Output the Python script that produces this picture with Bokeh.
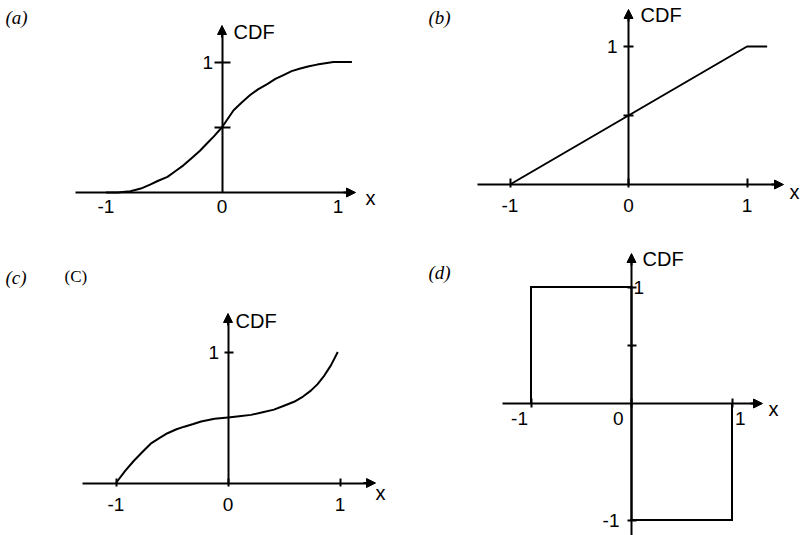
from bokeh.plotting import figure
from bokeh.models import LinearAxis, FixedTicker, Arrow, NormalHead, Label, Range1d
from bokeh.layouts import gridplot
from bokeh.embed import file_html
from bokeh.resources import INLINE

# ---------------- data ----------------
x_ticks = [-1, 0, 1]
x_tick_labels = ["-1", "0", "1"]
y_ticks_top = [0.5, 1]
y_tick_labels_top = ["", "1"]
y_ticks_d = [-1, 0.5, 1]
y_tick_labels_d = ["-1", "", "1"]

# (a) smooth S-shaped CDF
a_x = [-1.0, -0.9, -0.79, -0.70, -0.62, -0.55, -0.47, -0.40, -0.33, -0.26, -0.19, -0.13,
       -0.07, 0.0, 0.05, 0.10, 0.17, 0.24, 0.31, 0.39, 0.46, 0.53, 0.60, 0.675, 0.75,
       0.82, 0.89, 0.96, 1.04, 1.12]
a_cdf = [0.0, 0.0, 0.01, 0.03, 0.06, 0.09, 0.12, 0.165, 0.21, 0.265, 0.32, 0.375,
         0.43, 0.50, 0.565, 0.63, 0.69, 0.745, 0.79, 0.83, 0.87, 0.90, 0.93, 0.95, 0.967,
         0.98, 0.99, 1.0, 1.0, 1.0]
# (b) uniform CDF
b_x = [-1.0, 1.0, 1.17]
b_cdf = [0.0, 1.0, 1.0]
# (c) inverted-S curve
c_x = [-1.0, -0.92, -0.84, -0.76, -0.69, -0.61, -0.54, -0.46, -0.39, -0.31, -0.24, -0.12,
       0.0, 0.10, 0.205, 0.31, 0.41, 0.50, 0.59, 0.67, 0.74, 0.80, 0.86, 0.92, 0.98]
c_cdf = [0.0, 0.09, 0.17, 0.24, 0.30, 0.345, 0.38, 0.41, 0.43, 0.45, 0.47, 0.49,
         0.50, 0.51, 0.52, 0.54, 0.56, 0.59, 0.62, 0.66, 0.705, 0.755, 0.82, 0.90, 1.0]
# (d) square wave
d_x = [-1, -1, 0, 0, 1, 1]
d_cdf = [0, 1, 1, -1, -1, 0]

panel_tags = ["(a)", "(b)", "(c)", "(d)"]
extra_tag = "(C)"
y_name = "CDF"
x_name = "x"

SANS = "Liberation Sans"
SERIF = "Liberation Serif"
TICK_SIZE = "19px"
NAME_SIZE = "20px"
TAG_SIZE = "19px"

# ---------------- layout (page pixel geometry) ----------------
GEOM = {
    "a": dict(left=0, top=0, w=400, h=248, ox=221.5, ux=116.0, oy=192.0, uy=130.5),
    "b": dict(left=400, top=0, w=401, h=248, ox=628.0, ux=118.5, oy=184.0, uy=138.0),
    "c": dict(left=0, top=248, w=400, h=287, ox=227.5, ux=112.0, oy=482.5, uy=131.0),
    "d": dict(left=400, top=248, w=401, h=287, ox=631.0, ux=100.5, oy=403.0, uy=116.5),
}


def make_panel(g):
    xr = Range1d((g["left"] - g["ox"]) / g["ux"], (g["left"] + g["w"] - g["ox"]) / g["ux"])
    yr = Range1d((g["oy"] - (g["top"] + g["h"])) / g["uy"], (g["oy"] - g["top"]) / g["uy"])
    p = figure(width=g["w"], height=g["h"], x_range=xr, y_range=yr,
               output_backend="svg", toolbar_location=None,
               x_axis_location=None, y_axis_location=None,
               min_border=0, outline_line_color=None, title=None)
    p.grid.visible = False
    p.background_fill_color = "white"
    p.border_fill_color = "white"

    def px2x(px):
        return (px - g["ox"]) / g["ux"]

    def py2y(py):
        return (g["oy"] - py) / g["uy"]
    return p, px2x, py2y


def style_axis(ax, tin, tout, standoff):
    ax.axis_line_width = 2
    ax.axis_line_color = "black"
    ax.major_tick_line_width = 2
    ax.major_tick_line_color = "black"
    ax.major_tick_in = tin
    ax.major_tick_out = tout
    ax.minor_tick_line_color = None
    ax.major_label_text_font = SANS
    ax.major_label_text_font_size = TICK_SIZE
    ax.major_label_text_color = "black"
    ax.major_label_standoff = standoff


def add_x_axis(p, px2x, x0_px, tip_px, tin, tout, standoff, show_labels=True):
    x0, tip = px2x(x0_px), px2x(tip_px)
    shaft_end = px2x(tip_px - 9)
    overrides = {t: (lab if show_labels else "") for t, lab in zip(x_ticks, x_tick_labels)}
    ax = LinearAxis(fixed_location=0, bounds=(x0, shaft_end),
                    ticker=FixedTicker(ticks=x_ticks), major_label_overrides=overrides)
    style_axis(ax, tin, tout, standoff)
    p.add_layout(ax, "below")
    p.add_layout(Arrow(end=NormalHead(size=9, fill_color="black", line_color="black", line_width=1),
                       x_start=px2x(tip_px - 12), y_start=0, x_end=tip, y_end=0,
                       line_width=2, line_color="black"))


def add_y_axis(p, py2y, y0, tip_py, ticks, labels, tin, tout, standoff, side="left"):
    tip = py2y(tip_py)
    shaft_end = py2y(tip_py + 9)
    ax = LinearAxis(fixed_location=0, bounds=(y0, shaft_end),
                    ticker=FixedTicker(ticks=ticks),
                    major_label_overrides={t: lab for t, lab in zip(ticks, labels)})
    style_axis(ax, tin, tout, standoff)
    p.add_layout(ax, side)
    p.add_layout(Arrow(end=NormalHead(size=9, fill_color="black", line_color="black", line_width=1),
                       x_start=0, y_start=py2y(tip_py + 12), x_end=0, y_end=tip,
                       line_width=2, line_color="black"))


def add_text(p, px2x, py2y, px, py, text, font, size, style="normal", align="left"):
    p.add_layout(Label(x=px2x(px), y=py2y(py), text=text, text_font=font,
                       text_font_size=size, text_font_style=style, text_align=align,
                       text_baseline="middle", text_color="black"))


# ---------------- panel (a) ----------------
pa, ax_, ay_ = make_panel(GEOM["a"])
pa.line(a_x, a_cdf, line_width=2, line_color="black", line_join="round")
add_x_axis(pa, ax_, 75, 355, 0, 0, 7)
add_y_axis(pa, ay_, 0, 25, y_ticks_top, y_tick_labels_top, 8, 8, 1)
add_text(pa, ax_, ay_, 233, 31.5, y_name, SANS, NAME_SIZE)
add_text(pa, ax_, ay_, 365, 197, x_name, SANS, NAME_SIZE)
add_text(pa, ax_, ay_, 5, 17, panel_tags[0], SERIF, TAG_SIZE, "italic")

# ---------------- panel (b) ----------------
pb, bx_, by_ = make_panel(GEOM["b"])
pb.line(b_x, b_cdf, line_width=2, line_color="black", line_join="round")
add_x_axis(pb, bx_, 477, 783, 6, 3, 11)
add_y_axis(pb, by_, 0, 9, y_ticks_top, y_tick_labels_top, 5, 5, 6)
add_text(pb, bx_, by_, 640, 14, y_name, SANS, NAME_SIZE)
add_text(pb, bx_, by_, 789, 191, x_name, SANS, NAME_SIZE)
add_text(pb, bx_, by_, 428, 17, panel_tags[1], SERIF, TAG_SIZE, "italic")

# ---------------- panel (c) ----------------
pc, cx_, cy_ = make_panel(GEOM["c"])
pc.line(c_x, c_cdf, line_width=2, line_color="black", line_join="round")
add_x_axis(pc, cx_, 82, 375, 5, 3, 12)
add_y_axis(pc, cy_, 0, 313, [1], ["1"], 5, 4, 5)
add_text(pc, cx_, cy_, 235, 320, y_name, SANS, NAME_SIZE)
add_text(pc, cx_, cy_, 375, 492, x_name, SANS, NAME_SIZE)
add_text(pc, cx_, cy_, 5, 277, panel_tags[2], SERIF, TAG_SIZE, "italic")
add_text(pc, cx_, cy_, 64, 276, extra_tag, SERIF, "17px")

# ---------------- panel (d) ----------------
pd, dx_, dy_ = make_panel(GEOM["d"])
pd.line(d_x, d_cdf, line_width=2, line_color="black", line_join="miter")
add_x_axis(pd, dx_, 502, 762, 5, 4, 4, show_labels=False)
add_y_axis(pd, dy_, pd.y_range.start, 253, y_ticks_d, ["-1", "", ""], 5, 4, 8)
ry = LinearAxis(fixed_location=0, ticker=FixedTicker(ticks=[1]),
                major_label_overrides={1: y_tick_labels_d[2]})
style_axis(ry, 0, 0, 2)
ry.axis_line_color = None
pd.add_layout(ry, "right")
# x tick labels placed beside the square wave's verticals
d_label_align = ["right", "right", "left"]
d_label_dx = [-3, -8, 3]
for t, lab, al, dx in zip(x_ticks, x_tick_labels, d_label_align, d_label_dx):
    pd.add_layout(Label(x=t, y=0, text=lab, x_offset=dx, y_offset=-15,
                        text_font=SANS, text_font_size=TICK_SIZE, text_align=al,
                        text_baseline="middle", text_color="black"))
add_text(pd, dx_, dy_, 642, 258, y_name, SANS, NAME_SIZE)
add_text(pd, dx_, dy_, 768, 408, x_name, SANS, NAME_SIZE)
add_text(pd, dx_, dy_, 428, 272, panel_tags[3], SERIF, TAG_SIZE, "italic")

grid = gridplot([[pa, pb], [pc, pd]], toolbar_location=None)
open("out.html", "w").write(file_html(grid, INLINE))
